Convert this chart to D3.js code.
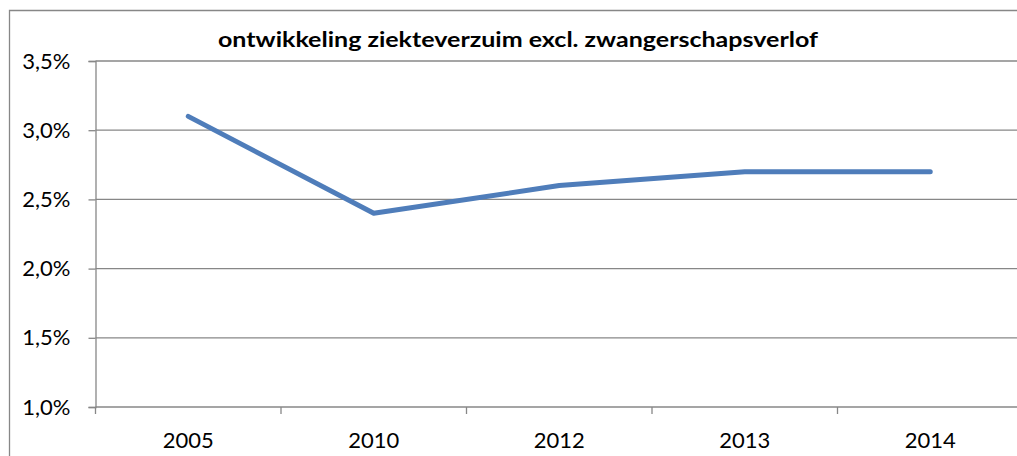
<!DOCTYPE html>
<html>
<head>
<meta charset="utf-8">
<script src="https://cdn.jsdelivr.net/npm/d3@7"></script>
<style>
  html, body { margin: 0; padding: 0; background: #fff; }
  svg { display: block; font-family: Lato, 'Open Sans', sans-serif; }
</style>
</head>
<body>
<div id="chart"></div>
<script>
const years = ['2005', '2010', '2012', '2013', '2014']
const verzuim = [3.1, 2.4, 2.6, 2.7, 2.7]
const yTicks = [1.0, 1.5, 2.0, 2.5, 3.0, 3.5]
const title = 'ontwikkeling ziekteverzuim excl. zwangerschapsverlof'

const width = 1017
const height = 456
const PADDING = {top: 61, left: 95.5, bottom: 407, right: 1023}
const GRID = '#878787'
const FONT_SIZE = 22

const svg = d3.select('#chart').append('svg')
  .attr('width', width).attr('height', height)

// outer chart border (right/bottom fall outside the picture)
svg.append('path')
  .attr('d', `M9.5,${height} V10.5 H${width}`)
  .attr('fill', 'none').attr('stroke', GRID).attr('stroke-width', 1.3)

const x = d3.scaleBand().domain(years).range([PADDING.left, PADDING.right])
const y = d3.scaleLinear().domain([1.0, 3.5]).range([PADDING.bottom, PADDING.top])

// gridlines
svg.append('g')
  .selectAll('line')
  .data(yTicks)
  .enter().append('line')
  .attr('x1', PADDING.left).attr('x2', width)
  .attr('y1', d => y(d)).attr('y2', d => y(d))
  .attr('stroke', GRID).attr('stroke-width', 1.3)

// y axis
const yAxis = svg.append('g')
  .attr('transform', `translate(${PADDING.left},0)`)
  .call(d3.axisLeft(y).tickValues(yTicks).tickSize(7).tickPadding(18)
    .tickFormat(d => d3.format('.1f')(d).replace('.', ',') + '%'))
yAxis.select('.domain').attr('stroke', GRID).attr('stroke-width', 1.3)
yAxis.selectAll('.tick line').attr('stroke', GRID).attr('stroke-width', 1.3)
yAxis.selectAll('.tick text')
  .attr('font-size', FONT_SIZE).attr('fill', '#000').attr('font-family', 'Lato, sans-serif')

// x axis
const xAxis = svg.append('g')
  .attr('transform', `translate(0,${PADDING.bottom})`)
  .call(d3.axisBottom(x).tickSize(0).tickPadding(25))
xAxis.select('.domain').remove()
xAxis.selectAll('.tick text')
  .attr('font-size', FONT_SIZE).attr('fill', '#000').attr('font-family', 'Lato, sans-serif')

// category boundary ticks
svg.append('g')
  .selectAll('line')
  .data(years)
  .enter().append('line')
  .attr('x1', d => x(d)).attr('x2', d => x(d))
  .attr('y1', PADDING.bottom).attr('y2', PADDING.bottom + 7)
  .attr('stroke', GRID).attr('stroke-width', 1.3)

// line
const line = d3.line()
  .x((d, i) => x(years[i]) + x.bandwidth() / 2)
  .y(d => y(d))

svg.append('path')
  .datum(verzuim)
  .attr('d', line)
  .attr('fill', 'none')
  .attr('stroke', '#4f7dba')
  .attr('stroke-width', 5)
  .attr('stroke-linejoin', 'round')
  .attr('stroke-linecap', 'round')

// title
svg.append('text')
  .attr('x', 518).attr('y', 47)
  .attr('text-anchor', 'middle')
  .attr('font-size', 20).attr('font-weight', 'bold')
  .attr('textLength', 600).attr('lengthAdjust', 'spacingAndGlyphs')
  .text(title)
</script>
</body>
</html>
